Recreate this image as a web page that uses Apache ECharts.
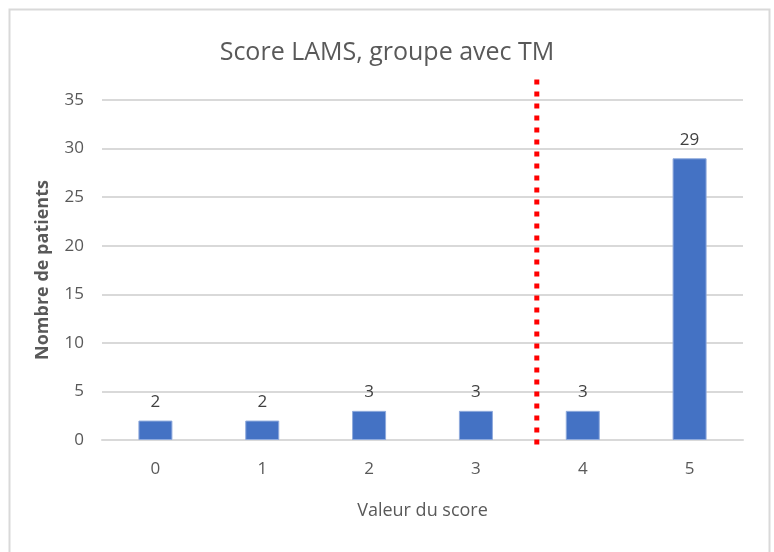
<!DOCTYPE html>
<html>
<head>
<meta charset="utf-8">
<script src="https://cdn.jsdelivr.net/npm/echarts@6/dist/echarts.min.js"></script>
<style>
html,body{margin:0;padding:0;background:#fff;}
#c{width:774px;height:552px;}
</style>
</head>
<body>
<div id="c"></div>
<script>
var categories = ['0', '1', '2', '3', '4', '5'];
var patients = [2, 2, 3, 3, 3, 29];
var yTicks = [0, 5, 10, 15, 20, 25, 30, 35];
var cutoffX = 3.57;              // position of the dotted cutoff line (category units)
var cutoffLine = [[cutoffX, 37.1], [cutoffX, -0.85]];

var FONT = '"Open Sans", "Noto Sans", sans-serif';
var chart = echarts.init(document.getElementById('c'));
chart.setOption({
  animation: false,
  backgroundColor: '#fff',
  graphic: [{
    type: 'rect', left: 7, top: 7,
    shape: { width: 760, height: 560 },
    style: { fill: 'none', stroke: '#d9d9d9', lineWidth: 2 },
    silent: true
  }],
  title: {
    text: 'Score LAMS, groupe avec TM',
    left: 'center', top: 35,
    textStyle: { fontFamily: FONT, fontSize: 25, fontWeight: 'normal', color: '#595959' }
  },
  grid: { left: 102, right: 31, top: 100, bottom: 112, containLabel: false },
  xAxis: [{
    type: 'category', data: categories,
    name: 'Valeur du score', nameLocation: 'middle', nameGap: 62,
    nameTextStyle: { fontFamily: FONT, fontSize: 18, color: '#595959' },
    axisLine: { lineStyle: { color: '#d9d9d9', width: 2 } },
    axisTick: { show: false },
    axisLabel: { fontFamily: FONT, fontSize: 17, color: '#595959', margin: 21 }
  }, {
    type: 'value', min: -0.5, max: 5.5, show: false
  }],
  yAxis: [{
    type: 'value', min: yTicks[0], max: yTicks[yTicks.length - 1], interval: 5,
    name: 'Nombre de patients', nameLocation: 'middle', nameGap: 50,
    nameTextStyle: { fontFamily: FONT, fontSize: 18, fontWeight: 'bold', color: '#595959' },
    axisLine: { show: false },
    axisTick: { show: false },
    axisLabel: { fontFamily: FONT, fontSize: 17, color: '#595959', margin: 18 },
    splitLine: { lineStyle: { color: '#d9d9d9', width: 2 } }
  }],
  series: [{
    type: 'bar', data: patients, barWidth: 34,
    itemStyle: { color: '#4472c4', borderColor: '#8faadc', borderWidth: 1 },
    label: { show: true, position: 'top', distance: 10, fontFamily: FONT, fontSize: 17, color: '#404040' }
  }, {
    type: 'line', xAxisIndex: 1, yAxisIndex: 0,
    data: cutoffLine, symbol: 'none', clip: false,
    lineStyle: { color: '#ff0000', width: 5, type: [5, 7], cap: 'butt' },
    silent: true, z: 5
  }]
});
</script>
</body>
</html>
